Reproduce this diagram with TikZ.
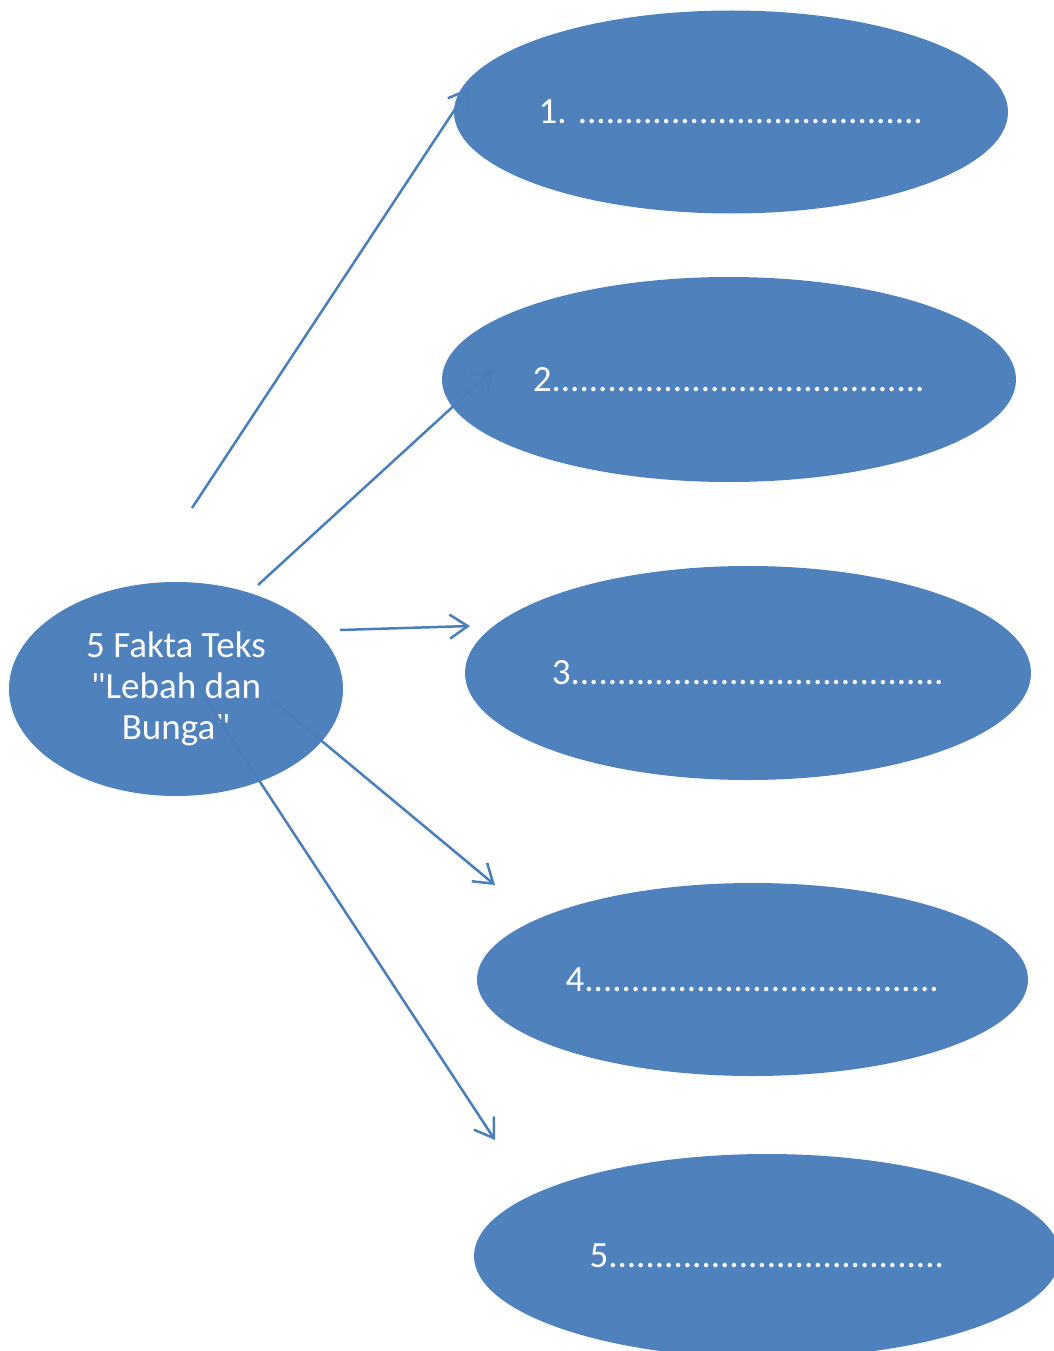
\documentclass[tikz,border=0pt]{standalone}
\usepackage{fontspec}
\newfontfamily\carl{Carlito}
\usetikzlibrary{arrows.meta,shapes.geometric}
\definecolor{fillblue}{HTML}{4F81BD}
\definecolor{lineblue}{HTML}{4A7EBB}
\tikzset{
  bubble/.style={ellipse, fill=fillblue, draw=none, inner sep=0pt, text=white,
    font=\carl\fontsize{37pt}{41pt}\selectfont, align=center},
  conn/.style={draw=lineblue, line width=2.5pt,
    -{Straight Barb[length=18pt,width=24pt,line width=2.5pt]}}
}
\begin{document}
\begin{tikzpicture}[x=1pt,y=-1pt]
\useasboundingbox (0,0) rectangle (1054,1351);
\node[bubble, minimum width=334pt, minimum height=214pt] (c) at (176,689) {5 Fakta Teks\\"Lebah dan\\Bunga"};
\node[bubble, minimum width=554pt, minimum height=203pt] (e1) at (731,112) {1. .....................................};
\node[bubble, minimum width=574pt, minimum height=205pt] (e2) at (729,379.5) {2........................................};
\node[bubble, minimum width=566pt, minimum height=214pt] (e3) at (748,673) {3........................................};
\node[bubble, minimum width=551pt, minimum height=193pt] (e4) at (752.5,979.5) {4......................................};
\node[bubble, minimum width=586pt, minimum height=204pt] (e5) at (767,1256) {5....................................};
\coordinate (s1) at (192,508);
\coordinate (t1) at (469,88);
\coordinate (s2) at (258,585);
\coordinate (t2) at (494,369);
\coordinate (s3) at (340,630);
\coordinate (t3) at (470,626);
\coordinate (s4) at (270,698);
\coordinate (t4) at (495,885);
\coordinate (s5) at (205,698);
\coordinate (t5) at (495,1140);
\draw[conn] (s1) -- (t1);
\draw[conn] (s2) -- (t2);
\draw[conn] (s3) -- (t3);
\draw[conn] (s4) -- (t4);
\draw[conn] (s5) -- (t5);
\end{tikzpicture}
\end{document}
